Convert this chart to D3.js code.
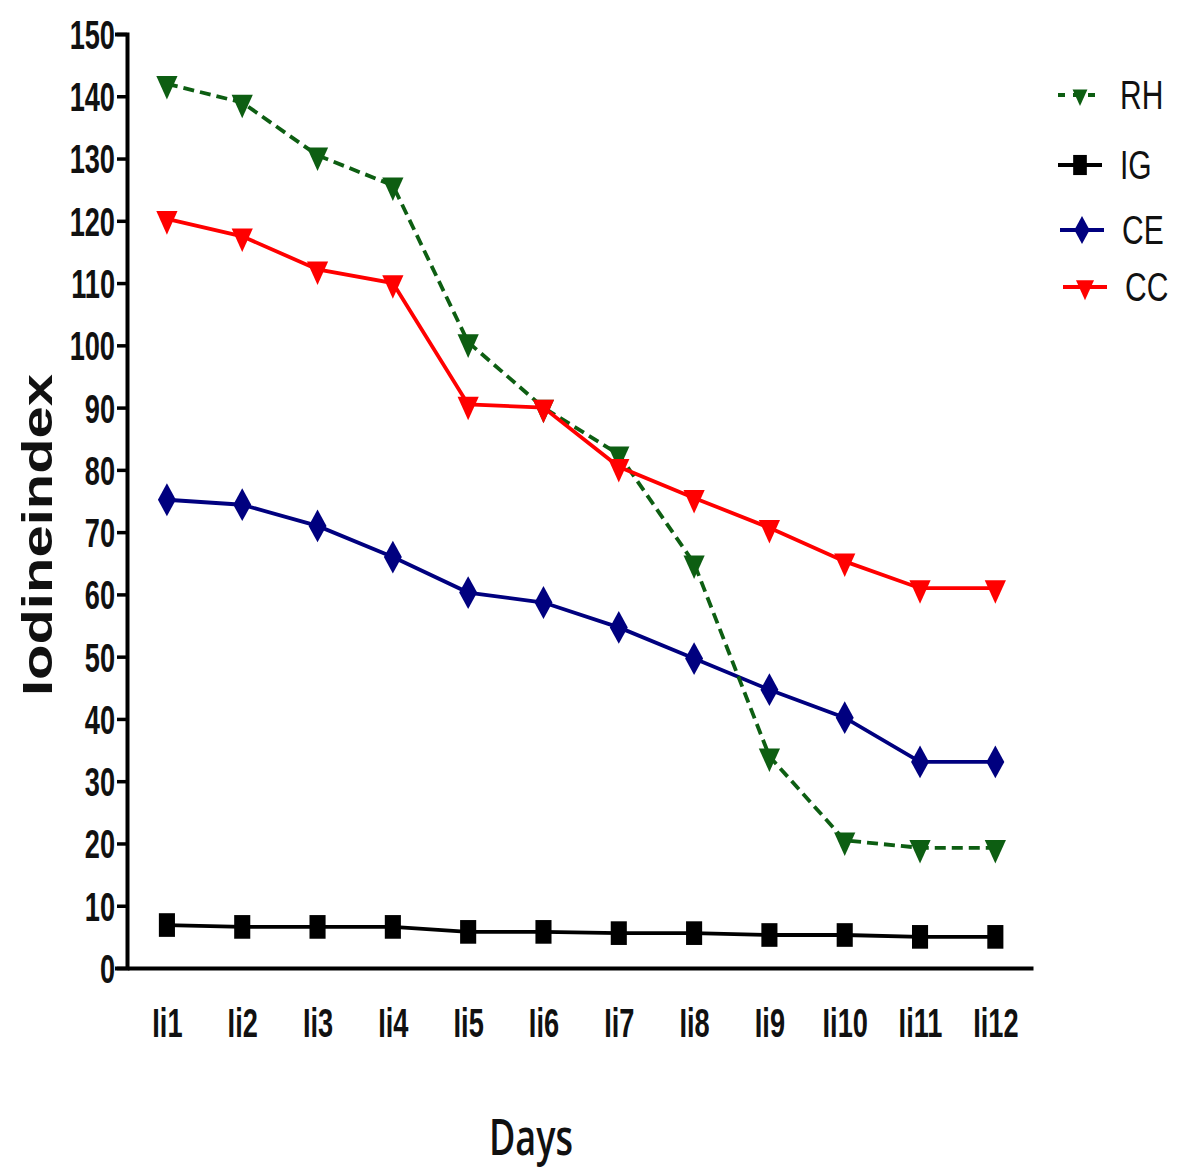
<!DOCTYPE html>
<html>
<head>
<meta charset="utf-8">
<script src="https://cdn.jsdelivr.net/npm/d3@7"></script>
<style>
  html, body { margin: 0; padding: 0; background: #fff; }
  svg { display: block; }
</style>
</head>
<body>
<svg id="chart" width="1180" height="1173"></svg>
<script>
// ---- data ----
const categories = ["Ii1", "Ii2", "Ii3", "Ii4", "Ii5", "Ii6", "Ii7", "Ii8", "Ii9", "Ii10", "Ii11", "Ii12"];
const RH = [142, 139, 130.5, 125.7, 100.5, 90, 82.5, 65, 34, 20.5, 19.3, 19.3];
const IG = [6.9, 6.6, 6.6, 6.6, 5.8, 5.8, 5.6, 5.6, 5.3, 5.3, 5.0, 5.0];
const CE = [75.2, 74.4, 71, 66, 60.3, 58.7, 54.7, 49.7, 44.7, 40.2, 33.1, 33.1];
const CC = [120.3, 117.5, 112.2, 110, 90.5, 90, 80.5, 75.5, 70.7, 65.3, 61, 61];
const yTicks = [0, 10, 20, 30, 40, 50, 60, 70, 80, 90, 100, 110, 120, 130, 140, 150];
const seriesNames = ["RH", "IG", "CE", "CC"];

// ---- styles ----
const styles = {
  RH: { color: "#0d5e12", dash: "11,6", symbol: "triDown" },
  IG: { color: "#000000", dash: null, symbol: "square" },
  CE: { color: "#00007f", dash: null, symbol: "diamond" },
  CC: { color: "#ff0000", dash: null, symbol: "triDown" }
};
const seriesData = { RH, IG, CE, CC };
const drawOrder = ["IG", "CE", "RH", "CC"];

const svg = d3.select("#chart");
const SX = 0.68; // horizontal compression of text

const x = d3.scaleLinear().domain([-0.53, 11.5]).range([127, 1033]);
const y = d3.scaleLinear().domain([0, 150]).range([968, 34]);

function symbolPath(kind, scale) {
  const s = scale || 1;
  if (kind === "square") return d3.symbol(d3.symbolSquare, 560 * s * s)();
  if (kind === "diamond") return d3.symbol(d3.symbolDiamond, 310 * s * s)();
  return d3.symbol(d3.symbolTriangle, 320 * s * s)();
}
function symbolTransform(kind, px, py) {
  if (kind === "square") return `translate(${px},${py}) scale(0.68,1)`;
  if (kind === "diamond") return `translate(${px},${py}) scale(0.95,1)`;
  return `translate(${px},${py}) scale(0.78,1) rotate(180)`;
}

// ---- axes ----
const yAxis = d3.axisLeft(y).tickValues(yTicks).tickSize(10).tickSizeOuter(10).tickPadding(0);
const gy = svg.append("g").attr("transform", "translate(127,0)").call(yAxis);
gy.select(".domain").attr("stroke", "#000").attr("stroke-width", 4).attr("stroke-linecap", "square");
gy.selectAll(".tick line").attr("stroke", "#000").attr("stroke-width", 3.5);
gy.selectAll(".tick text")
  .attr("x", 0).attr("dy", "0.36em")
  .attr("transform", "translate(-12,0) scale(" + SX + ",1)")
  .attr("fill", "#111")
  .style("font-family", "'Liberation Sans', Arial, sans-serif")
  .style("font-weight", "bold")
  .style("font-size", "40px");

const xAxis = d3.axisBottom(x)
  .tickValues(d3.range(categories.length))
  .tickFormat(i => categories[i])
  .tickSize(0).tickSizeOuter(0).tickPadding(0);
const gx = svg.append("g").attr("transform", "translate(0,968)").call(xAxis);
gx.select(".domain").attr("stroke", "#000").attr("stroke-width", 4);
gx.selectAll(".tick text")
  .attr("y", 0).attr("dy", 0)
  .attr("transform", "translate(0,69) scale(" + SX + ",1)")
  .attr("fill", "#111")
  .style("font-family", "'Liberation Sans', Arial, sans-serif")
  .style("font-weight", "bold")
  .style("font-size", "40px");

// ---- axis titles ----
svg.append("text")
  .attr("transform", "translate(52,535) scale(0.72,1) rotate(-90)")
  .attr("text-anchor", "middle")
  .attr("fill", "#111")
  .style("font-family", "'Liberation Sans', Arial, sans-serif")
  .style("font-weight", "bold")
  .style("font-size", "58px")
  .text("Iodineindex");

svg.append("text")
  .attr("transform", "translate(531,1155) scale(0.72,1)")
  .attr("text-anchor", "middle")
  .attr("fill", "#111")
  .style("font-family", "'Open Sans', 'Noto Sans', sans-serif")
  .style("font-weight", "600")
  .style("font-size", "50px")
  .text("Days");

// ---- lines ----
const line = d3.line().x((d, i) => x(i)).y(d => y(d));
drawOrder.forEach(name => {
  const st = styles[name];
  const g = svg.append("g").attr("class", "series-" + name);
  g.append("path")
    .datum(seriesData[name])
    .attr("d", line)
    .attr("fill", "none")
    .attr("stroke", st.color)
    .attr("stroke-width", 3.8)
    .attr("stroke-dasharray", st.dash);
  g.selectAll("path.marker")
    .data(seriesData[name])
    .join("path")
    .attr("class", "marker")
    .attr("d", symbolPath(st.symbol))
    .attr("transform", (d, i) => symbolTransform(st.symbol, x(i), y(d)))
    .attr("fill", st.color);
});

// ---- legend ----
const legendY = [95, 165, 230, 287];
const legendX0 = [1058, 1058, 1060, 1063];
const legend = svg.append("g");
seriesNames.forEach((name, k) => {
  const st = styles[name];
  const ly = legendY[k];
  const lx = legendX0[k];
  const g = legend.append("g");
  g.append("line")
    .attr("x1", lx).attr("x2", lx + 44)
    .attr("y1", ly).attr("y2", ly)
    .attr("stroke", st.color).attr("stroke-width", 3.8)
    .attr("stroke-dasharray", st.dash ? "7,8" : null);
  g.append("path")
    .attr("d", symbolPath(st.symbol, name === "RH" ? 0.7 : 0.85))
    .attr("transform", symbolTransform(st.symbol, lx + 22, ly))
    .attr("fill", st.color);
  g.append("text")
    .attr("transform", `translate(${lx + 62},${ly + 14}) scale(0.75,1)`)
    .attr("fill", "#111")
    .style("font-family", "'Liberation Sans', Arial, sans-serif")
    .style("font-size", "40px")
    .text(name);
});
</script>
</body>
</html>
